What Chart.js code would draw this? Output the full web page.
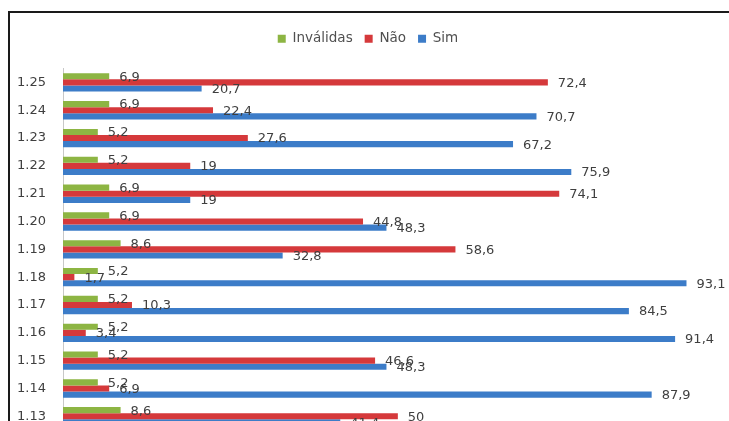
<!DOCTYPE html>
<html>
<head>
<meta charset="utf-8">
<script src="https://cdn.jsdelivr.net/npm/chart.js@4/dist/chart.umd.min.js"></script>
<style>
    html, body { margin: 0; padding: 0; background: #fff; overflow: hidden; width: 729px; height: 421px; }
    #frame { position: absolute; left: 8px; top: 11px; width: 760px; height: 480px; border: 2px solid #1a1a1a; background: #fff; }
    #chart { position: absolute; left: 0; top: 0; }
</style>
</head>
<body>
<div id="frame"><canvas id="chart" width="740" height="442"></canvas></div>
<script>
// categories, top to bottom
const categories = ['1.25', '1.24', '1.23', '1.22', '1.21', '1.20', '1.19', '1.18', '1.17', '1.16', '1.15', '1.14', '1.13'];
const invalidas = [6.9, 6.9, 5.2, 5.2, 6.9, 6.9, 8.6, 5.2, 5.2, 5.2, 5.2, 5.2, 8.6];
const nao = [72.4, 22.4, 27.6, 19, 74.1, 44.8, 58.6, 1.7, 10.3, 3.4, 46.6, 6.9, 50];
const sim = [20.7, 70.7, 67.2, 75.9, 19, 48.3, 32.8, 93.1, 84.5, 91.4, 48.3, 87.9, 41.4];

// value labels at the end of each bar, comma decimals
const valueLabels = {
    id: 'valueLabels',
    afterDatasetsDraw(chart) {
        const ctx = chart.ctx;
        ctx.save();
        ctx.font = '13px "DejaVu Sans"';
        ctx.fillStyle = '#3f3f3f';
        ctx.textAlign = 'left';
        ctx.textBaseline = 'middle';
        chart.data.datasets.forEach(function(ds, i) {
            chart.getDatasetMeta(i).data.forEach(function(bar, j) {
                const text = String(ds.data[j]).replace('.', ',');
                ctx.fillText(text, bar.x + 10, bar.y + 1);
            });
        });
        ctx.restore();
    }
};

// extra room under the legend
const legendSpace = {
    id: 'legendSpace',
    beforeInit(chart) {
        const fit = chart.legend.fit;
        chart.legend.fit = function() {
            fit.bind(chart.legend)();
            this.height += 13;
        };
    }
};

new Chart(document.getElementById('chart').getContext('2d'), {
    type: 'bar',
    data: {
        labels: categories,
        datasets: [
            { label: 'Inválidas', data: invalidas, backgroundColor: '#8db543' },
            { label: 'Não', data: nao, backgroundColor: '#d5393b' },
            { label: 'Sim', data: sim, backgroundColor: '#3c7cc8' }
        ]
    },
    options: {
        indexAxis: 'y',
        responsive: false,
        animation: false,
        categoryPercentage: 0.66,
        barPercentage: 1.0,
        layout: { padding: { top: 7, right: 24, bottom: 5, left: 0 } },
        plugins: {
            legend: {
                display: true,
                position: 'top',
                labels: {
                    boxWidth: 8,
                    boxHeight: 8,
                    padding: 12,
                    color: '#505050',
                    font: { family: '"DejaVu Sans"', size: 13.5 }
                }
            },
            tooltip: { enabled: false }
        },
        scales: {
            x: {
                display: false,
                min: 0,
                max: 99
            },
            y: {
                afterFit: function(scale) { scale.width = 53; },
                grid: { display: false, drawTicks: false },
                border: { display: true, color: '#c8c8c8', width: 1 },
                ticks: {
                    padding: 17,
                    color: '#3f3f3f',
                    font: { family: '"DejaVu Sans"', size: 13 }
                }
            }
        }
    },
    plugins: [valueLabels, legendSpace]
});
</script>
</body>
</html>
